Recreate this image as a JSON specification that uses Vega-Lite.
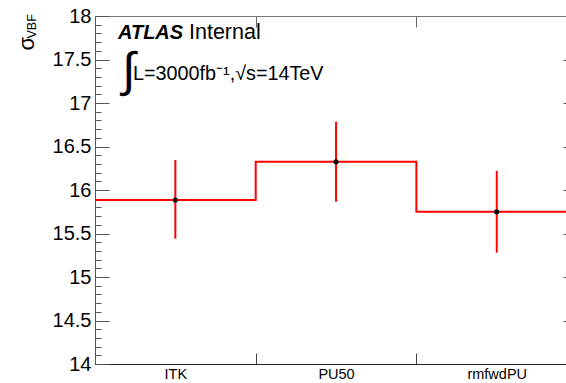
{
  "$schema": "https://vega.github.io/schema/vega-lite/v6.json",
  "width": 471,
  "height": 348,
  "autosize": {"type": "none"},
  "padding": {"left": 95, "top": 16, "right": 0, "bottom": 19},
  "background": "white",
  "config": {
    "view": {"stroke": null},
    "font": "Liberation Sans",
    "axis": {"labelFont": "Liberation Sans", "titleFont": "Liberation Sans", "grid": false, "titleFontWeight": "normal", "labelColor": "#000", "titleColor": "#000"}
  },
  "datasets": {
    "steps": [
      {"edge": 0, "xs": 15.885},
      {"edge": 1, "xs": 16.325},
      {"edge": 2, "xs": 15.75},
      {"edge": 3, "xs": 15.75}
    ],
    "bins": [
      {"sample": "ITK", "center": 0.5, "xs": 15.885, "lo": 15.44, "hi": 16.345},
      {"sample": "PU50", "center": 1.5, "xs": 16.325, "lo": 15.865, "hi": 16.785},
      {"sample": "rmfwdPU", "center": 2.5, "xs": 15.75, "lo": 15.28, "hi": 16.22}
    ],
    "atlas": [{"t": "ATLAS"}],
    "internal": [{"t": "Internal"}],
    "integral": [{"t": "∫"}],
    "lumi": [{"t": "L=3000fb⁻¹,√s=14TeV"}]
  },
  "resolve": {"axis": {"x": "independent", "y": "independent"}},
  "layer": [
    {
      "data": {"name": "steps"},
      "mark": {"type": "line", "interpolate": "step-after", "color": "#ff0000", "strokeWidth": 2, "clip": true},
      "encoding": {
        "x": {
          "field": "edge", "type": "quantitative",
          "scale": {"domain": [0, 2.931], "nice": false, "zero": false},
          "axis": {
            "orient": "bottom", "values": [0, 1, 2],
            "labelExpr": "datum.value==0?'ITK':datum.value==1?'PU50':'rmfwdPU'",
            "labelOffset": 80.35, "labelFlush": false, "labelOverlap": false, "labelBound": false,
            "tickSize": -11, "tickColor": "#444", "domainColor": "#222", "domainWidth": 1,
            "labelFontSize": 14.5, "labelPadding": 14, "labelAngle": 0, "title": null
          }
        },
        "y": {
          "field": "xs", "type": "quantitative",
          "scale": {"domain": [14, 18], "nice": false, "zero": false},
          "axis": {
            "orient": "left",
            "values": [14, 14.5, 15, 15.5, 16, 16.5, 17, 17.5, 18],
            "tickSize": -14,
            "labelExpr": "toString(round(datum.value*10)/10)",
            "labelFontSize": 20, "labelPadding": 18, "labelOverlap": false, "labelFlush": false, "labelBound": false,
            "tickColor": "#555", "domainColor": "#555",
            "title": "σ", "titleFontSize": 22, "titleAngle": -90,
            "titleX": -62, "titleY": 34, "titleAlign": "left", "titleBaseline": "alphabetic"
          }
        }
      }
    },
    {
      "data": {"name": "bins"},
      "mark": {"type": "rule", "color": "#ff0000", "strokeWidth": 2},
      "encoding": {
        "x": {
          "field": "center", "type": "quantitative",
          "scale": {"domain": [0, 2.931], "nice": false, "zero": false},
          "axis": {
            "orient": "top", "values": [1, 2], "labels": false,
            "tickSize": -11, "tickColor": "#666", "domainColor": "#777",
            "title": "VBF", "titleFontSize": 12.5, "titleAngle": -90,
            "titleX": -59.5, "titleY": 22, "titleAlign": "left", "titleBaseline": "alphabetic"
          }
        },
        "y": {
          "field": "lo", "type": "quantitative",
          "scale": {"domain": [14, 18], "nice": false, "zero": false},
          "axis": {
            "orient": "right", "values": [14.5, 15, 15.5, 16, 16.5, 17, 17.5],
            "labels": false, "domain": false, "tickSize": -3, "tickColor": "#555", "title": null
          }
        },
        "y2": {"field": "hi"}
      }
    },
    {
      "data": {"name": "bins"},
      "mark": {"type": "circle", "color": "#000", "opacity": 1, "size": 26},
      "encoding": {
        "x": {"field": "center", "type": "quantitative", "scale": {"domain": [0, 2.931], "nice": false, "zero": false}, "axis": null},
        "y": {
          "field": "xs", "type": "quantitative", "scale": {"domain": [14, 18], "nice": false, "zero": false},
          "axis": {
            "orient": "left",
            "values": [14.1, 14.2, 14.3, 14.4, 14.6, 14.7, 14.8, 14.9, 15.1, 15.2, 15.3, 15.4, 15.6, 15.7, 15.8, 15.9, 16.1, 16.2, 16.3, 16.4, 16.6, 16.7, 16.8, 16.9, 17.1, 17.2, 17.3, 17.4, 17.6, 17.7, 17.8, 17.9],
            "labels": false, "domain": false, "tickSize": -6, "tickColor": "#555", "title": null
          }
        }
      }
    },
    {
      "data": {"name": "atlas"},
      "mark": {"type": "text", "align": "left", "baseline": "alphabetic", "fontSize": 20, "fontWeight": "bold", "fontStyle": "italic", "color": "#000"},
      "encoding": {
        "x": {"datum": 0.143, "type": "quantitative", "scale": {"domain": [0, 2.931], "nice": false, "zero": false}, "axis": null},
        "y": {"datum": 17.736, "type": "quantitative", "scale": {"domain": [14, 18], "nice": false, "zero": false}, "axis": null},
        "text": {"field": "t"}
      }
    },
    {
      "data": {"name": "internal"},
      "mark": {"type": "text", "align": "left", "baseline": "alphabetic", "fontSize": 21.5, "color": "#000"},
      "encoding": {
        "x": {"datum": 0.585, "type": "quantitative", "scale": {"domain": [0, 2.931], "nice": false, "zero": false}, "axis": null},
        "y": {"datum": 17.736, "type": "quantitative", "scale": {"domain": [14, 18], "nice": false, "zero": false}, "axis": null},
        "text": {"field": "t"}
      }
    },
    {
      "data": {"name": "integral"},
      "mark": {"type": "text", "align": "left", "baseline": "alphabetic", "fontSize": 48, "color": "#000"},
      "encoding": {
        "x": {"datum": 0.168, "type": "quantitative", "scale": {"domain": [0, 2.931], "nice": false, "zero": false}, "axis": null},
        "y": {"datum": 17.2, "type": "quantitative", "scale": {"domain": [14, 18], "nice": false, "zero": false}, "axis": null},
        "text": {"field": "t"}
      }
    },
    {
      "data": {"name": "lumi"},
      "mark": {"type": "text", "align": "left", "baseline": "alphabetic", "fontSize": 19.8, "color": "#000"},
      "encoding": {
        "x": {"datum": 0.2365, "type": "quantitative", "scale": {"domain": [0, 2.931], "nice": false, "zero": false}, "axis": null},
        "y": {"datum": 17.264, "type": "quantitative", "scale": {"domain": [14, 18], "nice": false, "zero": false}, "axis": null},
        "text": {"field": "t"}
      }
    }
  ]
}
